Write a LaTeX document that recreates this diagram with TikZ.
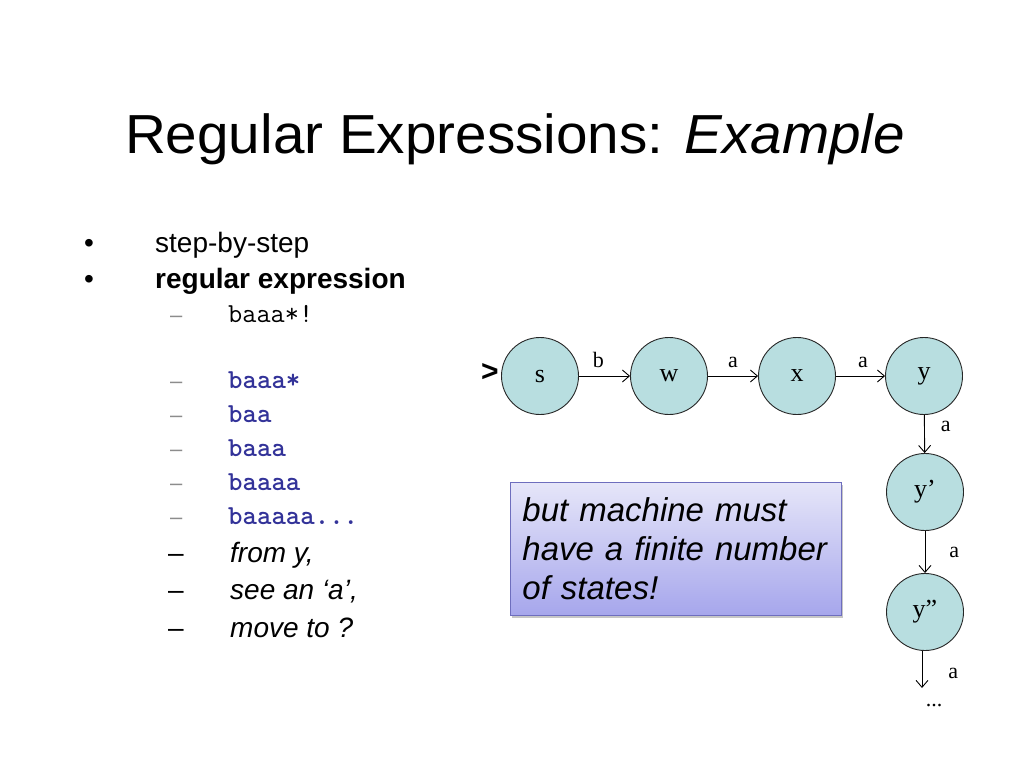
\documentclass[tikz,border=0pt]{standalone}
\usepackage{fontspec}
\setmainfont{Liberation Sans}
\newfontfamily\serifF{Liberation Serif}
\usetikzlibrary{arrows.meta,shadows}
\definecolor{statefill}{HTML}{B8DEE0}
\definecolor{codeblue}{HTML}{333399}
\definecolor{boxtop}{HTML}{E6E6F9}
\definecolor{boxbot}{HTML}{A6A6EC}
\definecolor{boxline}{HTML}{6E6EBE}
\begin{document}
\begin{tikzpicture}[x=1pt,y=-1pt,
  txt/.style={anchor=base west, inner sep=0pt},
  body/.style={txt, font=\fontsize{28}{32}\selectfont},
  itm/.style={txt, font=\fontsize{28}{32}\selectfont\itshape},
  code/.style={txt, font=\ttfamily\fontsize{27.5}{30}\selectfont},
  bcode/.style={txt, font=\ttfamily\fontsize{27.5}{30}\selectfont\bfseries, text=codeblue},
  gdash/.style={txt, font=\fontsize{22}{26}\selectfont, text=black!45},
  kdash/.style={txt, font=\fontsize{28}{32}\selectfont},
  stnode/.style={circle, draw=black!85, fill=statefill, minimum size=77pt, inner sep=0pt,
    line width=0.9pt, font=\serifF\fontsize{26}{30}\selectfont},
  trans/.style={-{Straight Barb[length=7pt,width=12pt,line width=0.9pt]}, line width=0.9pt},
  lbl/.style={inner sep=0pt, font=\serifF\fontsize{22}{26}\selectfont},
  notebox/.style={draw=boxline, line width=0.9pt, top color=boxtop, bottom color=boxbot,
    drop shadow={shadow xshift=1.5pt, shadow yshift=-2.5pt, fill=black!50, opacity=0.45},
    anchor=north west, minimum width=331pt, minimum height=133pt, text width=307pt,
    inner xsep=12pt, align=left, font=\fontsize{33}{39}\selectfont\itshape}]
\useasboundingbox (0,0) rectangle (1024,768);

% title
\node[font=\fontsize{55}{66}\selectfont, inner sep=0pt, anchor=base] (title) at (515,153)
  {\scalebox{1.03}[1]{Regular Expressions: \textit{Example}}};

% bullets
\node[body] (bu1) at (84,252) {•};
\node[body] (t1) at (155,252) {step-by-step};
\node[body] (bu2) at (84,288) {•};
\node[body, font=\fontsize{28}{32}\selectfont\bfseries] (t2) at (155,288) {regular expression};

\node[gdash] (d1) at (170,322) {–};
\node[code] (c1) at (228,322) {baaa*!};
\node[gdash] (d2) at (170,388) {–};
\node[bcode] (c2) at (228,388) {baaa*};
\node[gdash] (d3) at (170,422) {–};
\node[bcode] (c3) at (228,422) {baa};
\node[gdash] (d4) at (170,456) {–};
\node[bcode] (c4) at (228,456) {baaa};
\node[gdash] (d5) at (170,490) {–};
\node[bcode] (c5) at (228,490) {baaaa};
\node[gdash] (d6) at (170,524) {–};
\node[bcode] (c6) at (228,524) {baaaaa...};
\node[kdash] (d7) at (168,562) {–};
\node[itm] (i1) at (230,562) {from y,};
\node[kdash] (d8) at (168,599) {–};
\node[itm] (i2) at (230,599) {see an ‘a’,};
\node[kdash] (d9) at (168,637) {–};
\node[itm] (i3) at (230,637) {move to ?};

% automaton
\node[font=\fontsize{30}{34}\selectfont\bfseries, inner sep=0pt] (start) at (490,372) {>};
\node[stnode] (s) at (540,376) {s};
\node[stnode] (w) at (669,376) {w};
\node[stnode] (x) at (797,376) {x};
\node[stnode] (y) at (924,376) {y};
\node[stnode] (y1) at (925,492) {y’};
\node[stnode] (y2) at (925,612) {y”};
\coordinate (tail) at (922,688);

\draw[trans] (s) -- (w) node[lbl, pos=0.38, above=8pt] {b};
\draw[trans] (w) -- (x) node[lbl, pos=0.5, above=8pt] {a};
\draw[trans] (x) -- (y) node[lbl, pos=0.55, above=8pt] {a};
\draw[trans] (y) -- (y1) node[lbl, pos=0.3, right=16pt] {a};
\draw[trans] (y1) -- (y2) node[lbl, pos=0.5, right=24pt] {a};
\draw[trans] (y2.south -| tail) -- (tail) node[lbl, pos=0.6, right=26pt] {a};
\node[lbl] (dots) at (934,706) {...};

% note
\node[notebox] (note) at (510,482) {but machine must\\have a finite number\\of states!};
\end{tikzpicture}
\end{document}
